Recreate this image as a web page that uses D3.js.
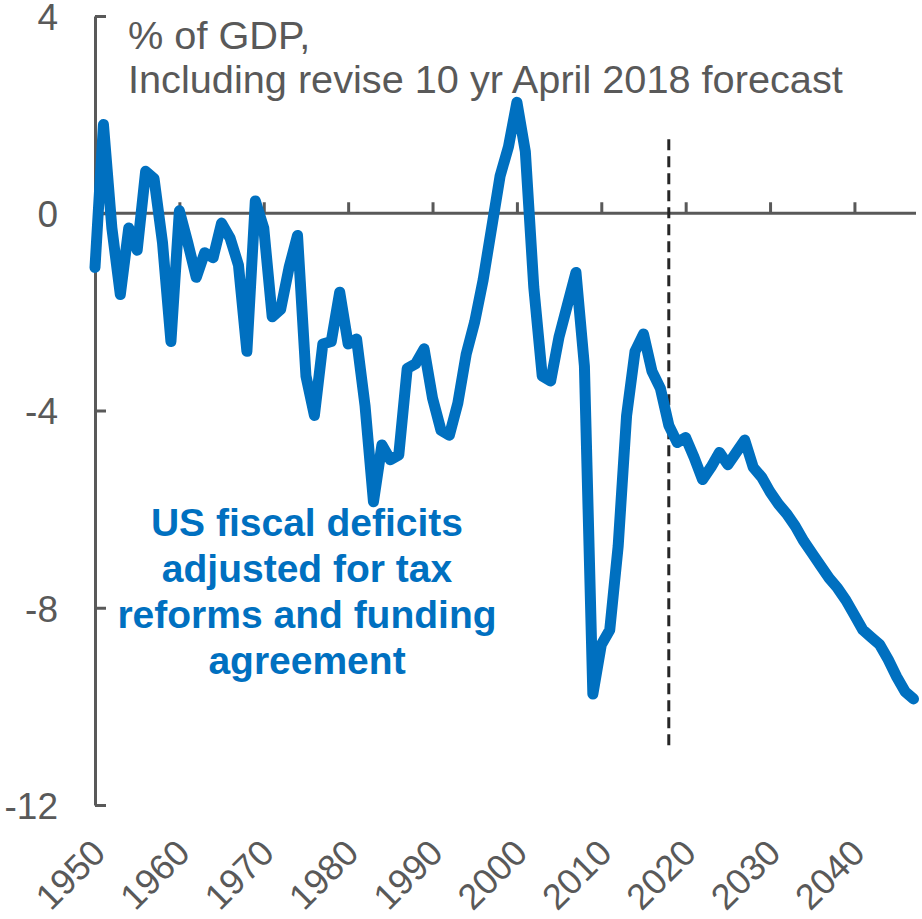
<!DOCTYPE html>
<html>
<head>
<meta charset="utf-8">
<script src="https://cdn.jsdelivr.net/npm/d3@7"></script>
<style>
  html, body { margin: 0; padding: 0; background: #fff; }
  svg { display: block; }
  text { font-family: Arial, "Liberation Sans", sans-serif; }
</style>
</head>
<body>
<svg id="chart" width="922" height="919"></svg>
<script>
// US federal balance, % of GDP, actuals then forecast
const firstYear = 1950;
const deficits = [
  -1.1, 1.8, -0.3, -1.65, -0.3, -0.75, 0.85, 0.7, -0.6, -2.6,      // 1950s
  0.05, -0.6, -1.3, -0.8, -0.9, -0.2, -0.5, -1.05, -2.8, 0.25,     // 1960s
  -0.3, -2.1, -1.95, -1.1, -0.45, -3.3, -4.1, -2.65, -2.6, -1.6,   // 1970s
  -2.65, -2.55, -3.9, -5.85, -4.7, -5.0, -4.9, -3.15, -3.05, -2.75, // 1980s
  -3.75, -4.4, -4.5, -3.85, -2.85, -2.2, -1.35, -0.3, 0.75, 1.35,  // 1990s
  2.25, 1.25, -1.5, -3.3, -3.4, -2.5, -1.85, -1.2, -3.1, -9.75,    // 2000s
  -8.75, -8.45, -6.75, -4.1, -2.8, -2.45, -3.2, -3.55, -4.3, -4.65, // 2010s
  -4.55, -4.95, -5.4, -5.15, -4.85, -5.1, -4.85, -4.6, -5.15, -5.35, // 2020s
  -5.65, -5.9, -6.1, -6.35, -6.65, -6.9, -7.15, -7.4, -7.6, -7.85, // 2030s
  -8.15, -8.45, -8.6, -8.75, -9.05, -9.4, -9.7, -9.85               // 2040s
];
const years = d3.range(firstYear, firstYear + deficits.length);
const forecastYear = 2018;
const forecastSpan = [1.5, -10.8];

const yTicks = [4, 0, -4, -8, -12];
const xTicks = [1950, 1960, 1970, 1980, 1990, 2000, 2010, 2020, 2030, 2040];
const titleLines = ["% of GDP,", "Including revise 10 yr April 2018 forecast"];
const noteLines = ["US fiscal deficits", "adjusted for tax", "reforms and funding", "agreement"];

const axisColor = "#595959";
const lineColor = "#0070C0";

const svg = d3.select("#chart");

const x = d3.scaleLinear().domain([1950, 2047]).range([95, 913.5]);
const y = d3.scaleLinear().domain([4, -12]).range([16, 805]);

// y axis with inward ticks
const yAxis = svg.append("g")
  .attr("transform", `translate(${x(1950)},0)`)
  .call(d3.axisLeft(y).tickValues(yTicks).tickSizeInner(-11).tickSizeOuter(0)
        .tickPadding(37).tickFormat(d => d));
yAxis.select(".domain").attr("stroke", axisColor).attr("stroke-width", 3);
yAxis.selectAll(".tick line").attr("stroke", axisColor).attr("stroke-width", 3);
yAxis.selectAll(".tick text")
  .attr("fill", axisColor).style("font-size", "37px")
  .attr("dy", "0.36em");

// horizontal zero axis with upward ticks
const zeroAxis = svg.append("g")
  .attr("transform", `translate(0,${y(0)})`)
  .call(d3.axisTop(x).tickValues(xTicks).tickSizeInner(11).tickSizeOuter(0).tickFormat(""));
zeroAxis.select(".domain").attr("d", `M${x(1950)},0H916`)
  .attr("stroke", axisColor).attr("stroke-width", 3);
zeroAxis.selectAll(".tick line").attr("stroke", axisColor).attr("stroke-width", 3);

// year labels at the bottom, slanted
const labelAxis = svg.append("g")
  .attr("transform", `translate(0,${y(-12)})`)
  .call(d3.axisBottom(x).tickValues(xTicks).tickSize(0).tickFormat(d => d));
labelAxis.select(".domain").remove();
labelAxis.selectAll(".tick text")
  .attr("fill", axisColor).style("font-size", "36px")
  .attr("text-anchor", "end")
  .attr("x", 0).attr("y", 0).attr("dy", 0)
  .attr("transform", "translate(12,50) rotate(-45)");

// forecast divider
svg.append("line")
  .attr("x1", x(forecastYear)).attr("x2", x(forecastYear))
  .attr("y1", y(forecastSpan[0])).attr("y2", y(forecastSpan[1]))
  .attr("stroke", "#262626").attr("stroke-width", 3)
  .attr("stroke-dasharray", "11,6");

// deficit series
const line = d3.line().x((d, i) => x(years[i])).y(d => y(d));
svg.append("path")
  .datum(deficits)
  .attr("d", line)
  .attr("fill", "none")
  .attr("stroke", lineColor)
  .attr("stroke-width", 11)
  .attr("stroke-linejoin", "round")
  .attr("stroke-linecap", "round");

// unit title
svg.append("text")
  .attr("x", 128).attr("y", 49)
  .attr("fill", axisColor).style("font-size", "39.7px")
  .selectAll("tspan").data(titleLines).join("tspan")
  .attr("x", 128).attr("dy", (d, i) => i === 0 ? 0 : 44)
  .text(d => d);

// annotation
svg.append("text")
  .attr("y", 536)
  .attr("fill", lineColor).style("font-size", "39px").style("font-weight", "bold")
  .attr("text-anchor", "middle")
  .selectAll("tspan").data(noteLines).join("tspan")
  .attr("x", 307).attr("dy", (d, i) => i === 0 ? 0 : 46)
  .text(d => d);
</script>
</body>
</html>
